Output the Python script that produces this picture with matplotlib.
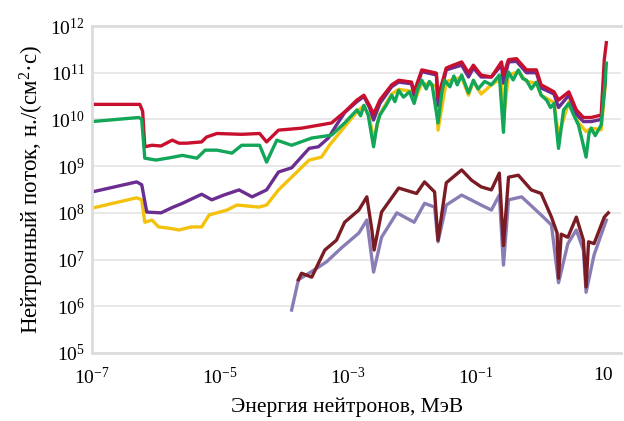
import matplotlib
matplotlib.use("Agg")
import matplotlib.pyplot as plt

plt.rcParams['font.family'] = ['Liberation Serif', 'DejaVu Serif']
plt.rcParams['mathtext.fontset'] = 'custom'
plt.rcParams['mathtext.rm'] = 'Liberation Serif'
plt.rcParams['mathtext.it'] = 'Liberation Serif:italic'

# energies (MeV) and fluxes
red_e = [1e-7, 5.6e-7, 6.2e-7, 6.7e-7, 8.7e-7, 1.2e-6, 1.8e-6, 2.3e-6, 3.0e-6, 5.2e-6,
         6.2e-6, 9e-6, 2.2e-5, 4.2e-5, 5.4e-5, 8.3e-5, 1.9e-4, 5.6e-4, 9e-4, 1.4e-3,
         1.8e-3, 2.2e-3, 2.55e-3, 3.2e-3, 4.9e-3, 6.3e-3, 1.0e-2, 1.1e-2, 1.45e-2, 2.45e-2,
         2.6e-2, 3.5e-2, 4.5e-2, 6.1e-2, 7.8e-2, 9.3e-2, 0.123, 0.178, 0.256, 0.275,
         0.33, 0.44, 0.63, 0.90, 1.07, 1.7, 2.0, 2.9, 3.8, 4.9,
         6.5, 9.3, 10.4, 11.2]
red_f = [2.1e10, 2.1e10, 1.5e10, 2.6e9, 2.8e9, 2.7e9, 3.6e9, 3.1e9, 3.1e9, 3.3e9,
         4.2e9, 5.0e9, 4.8e9, 5.0e9, 3.3e9, 5.9e9, 6.5e9, 8.4e9, 1.45e10, 2.6e10,
         3.3e10, 2.0e10, 1.3e10, 2.6e10, 5.5e10, 6.9e10, 6.3e10, 3.9e10, 1.15e11, 9.8e10,
         3.0e10, 1.26e11, 1.45e11, 1.7e11, 1.0e11, 1.45e11, 8.9e10, 8.1e10, 1.7e11, 9e10,
         1.9e11, 2.0e11, 1.15e11, 1.15e11, 5.5e10, 3.9e10, 2.6e10, 3.9e10, 1.6e10, 1.1e10,
         1.1e10, 1.24e10, 1.9e11, 4.4e11]

green_e = [1e-7, 5.4e-7, 6.0e-7, 6.7e-7, 1.0e-6, 1.6e-6, 2.6e-6, 4.4e-6, 5.9e-6, 9e-6,
           1.55e-5, 2.2e-5, 4.2e-5, 5.4e-5, 7.8e-5, 1.33e-4, 2.75e-4, 5.6e-4, 9e-4, 1.4e-3,
           1.6e-3, 1.8e-3, 2.1e-3, 2.55e-3, 2.9e-3, 3.2e-3, 4.0e-3, 4.9e-3, 5.5e-3, 6.3e-3,
           7.5e-3, 9.3e-3, 1.1e-2, 1.25e-2, 1.45e-2, 1.7e-2, 1.9e-2, 2.1e-2, 2.6e-2, 3.0e-2,
           3.3e-2, 4.0e-2, 4.6e-2, 5.2e-2, 6.1e-2, 7.8e-2, 9.3e-2, 0.11, 0.14, 0.178,
           0.237, 0.275, 0.30, 0.33, 0.39, 0.47, 0.55, 0.63, 0.75, 0.90,
           1.07, 1.3, 1.5, 1.7, 2.0, 2.4, 2.9, 3.4, 4.1, 4.6,
           5.4, 6.0, 6.5, 7.5, 9.3, 10.8, 11.2]
green_f = [9e9, 1.1e10, 1.0e10, 1.48e9, 1.35e9, 1.5e9, 1.7e9, 1.48e9, 2.2e9, 2.2e9,
           1.9e9, 2.8e9, 2.8e9, 1.22e9, 3.6e9, 2.8e9, 4.0e9, 4.6e9, 8.4e9, 1.6e10,
           1.2e10, 2.0e10, 1.24e10, 2.6e9, 8e9, 1.24e10, 2.0e10, 3.3e10, 2.4e10, 4.2e10,
           3.0e10, 3.9e10, 2.2e10, 4.5e10, 6.9e10, 4.5e10, 6.5e10, 5.5e10, 8.4e9, 4.0e10,
           6.9e10, 5.0e10, 8.5e10, 5.5e10, 8.9e10, 3.7e10, 6.9e10, 4.5e10, 6.5e10, 5.5e10,
           8.9e10, 5.3e9, 6e10, 1.03e11, 7e10, 1.15e11, 7.5e10, 6.9e10, 4.5e10, 6.3e10,
           3.3e10, 2.6e10, 1.8e10, 2.2e10, 2.4e9, 1.6e10, 2.2e10, 1.3e10, 7.6e9, 4e9,
           1.56e9, 5e9, 6.5e9, 4.5e9, 7.6e9, 6.9e10, 1.6e11]

purple_e = [1e-7, 5e-7, 6e-7, 7.2e-7, 1.2e-6, 1.8e-6, 2.6e-6, 5.2e-6, 7.5e-6, 1.15e-5,
            2.0e-5, 3.2e-5, 5.4e-5, 8.3e-5, 1.33e-4, 2.5e-4, 3.5e-4, 5e-4, 6.7e-4, 9e-4,
            1.4e-3, 1.8e-3, 2.2e-3, 2.55e-3, 3.2e-3, 4.9e-3, 6.3e-3, 1.0e-2, 1.1e-2, 1.45e-2,
            2.45e-2, 2.6e-2, 3.5e-2, 6.1e-2, 7.8e-2, 9.3e-2, 0.123, 0.178, 0.256, 0.275,
            0.33, 0.44, 0.63, 0.90, 1.07, 1.7, 2.0, 2.9, 3.8, 4.9,
            6.5, 9.3, 10.8]
purple_f = [2.8e8, 4.6e8, 4.0e8, 1.04e8, 1.0e8, 1.3e8, 1.6e8, 2.5e8, 1.9e8, 2.4e8,
            3.1e8, 2.2e8, 3.1e8, 7.5e8, 9.2e8, 2.4e9, 2.6e9, 4.0e9, 7.6e9, 1.4e10,
            2.4e10, 3.1e10, 1.8e10, 9.7e9, 2.2e10, 5.0e10, 6.3e10, 5.8e10, 3.3e10, 1.05e11,
            9e10, 2.0e10, 1.15e11, 1.45e11, 8.1e10, 1.26e11, 8.1e10, 8.1e10, 1.45e11, 6e10,
            1.7e11, 1.75e11, 1.0e11, 1.0e11, 4.7e10, 3.5e10, 1.8e10, 3.3e10, 1.3e10, 9e9,
            9e9, 1.0e10, 6.9e10]

yellow_e = [1e-7, 5e-7, 6.0e-7, 6.7e-7, 8.7e-7, 1.1e-6, 1.6e-6, 2.3e-6, 3.6e-6, 5.2e-6,
            6.8e-6, 1.3e-5, 1.85e-5, 4.1e-5, 5.4e-5, 8.3e-5, 1.33e-4, 2.5e-4, 3.9e-4, 5.2e-4,
            8.1e-4, 1.4e-3, 1.8e-3, 2.2e-3, 2.55e-3, 3.2e-3, 4.9e-3, 6.3e-3, 1.0e-2, 1.1e-2,
            1.45e-2, 2.45e-2, 2.6e-2, 3.5e-2, 6.1e-2, 7.8e-2, 9.3e-2, 0.123, 0.178, 0.256,
            0.275, 0.33, 0.47, 0.63, 0.90, 1.07, 1.7, 2.0, 2.9, 4.1,
            5.4, 6.5, 9.3, 10.8]
yellow_f = [1.26e8, 2.1e8, 1.9e8, 6.3e7, 7.0e7, 5.0e7, 4.7e7, 4.3e7, 5.0e7, 5.0e7,
            9.0e7, 1.15e8, 1.47e8, 1.33e8, 1.47e8, 3.1e8, 5.8e8, 1.35e9, 1.56e9, 2.8e9,
            5.9e9, 1.45e10, 2.0e10, 1.1e10, 3.6e9, 1.3e10, 3.5e10, 4.4e10, 4.0e10, 2.4e10,
            6.0e10, 5.2e10, 5.9e9, 6.5e10, 8.0e10, 3.3e10, 6.5e10, 3.5e10, 5.5e10, 7.5e10,
            1.0e10, 9.0e10, 1.05e11, 6.5e10, 6.0e10, 3.3e10, 2.3e10, 4.5e9, 2.4e10, 8.5e9,
            5.5e9, 6.5e9, 6.0e9, 5.5e10]

maroon_e = [1.7e-4, 1.9e-4, 2.75e-4, 4.4e-4, 6.7e-4, 9e-4, 1.5e-3, 2.0e-3, 2.4e-3, 2.6e-3,
            3.4e-3, 6.3e-3, 1.2e-2, 1.6e-2, 2.3e-2, 2.6e-2, 3.5e-2, 6.1e-2, 8.7e-2, 0.123,
            0.178, 0.237, 0.275, 0.33, 0.47, 0.75, 1.07, 1.55, 1.9, 2.0,
            2.2, 2.8, 3.8, 4.9, 5.4, 5.9, 7.2, 10.4, 12]
maroon_f = [3.7e6, 5.1e6, 4.2e6, 1.6e7, 2.6e7, 6.3e7, 1.15e8, 2.2e8, 4.3e7, 1.6e7,
            1.04e8, 3.4e8, 2.6e8, 4.6e8, 2.8e8, 2.6e7, 4.4e8, 8.3e8, 5.0e8, 3.6e8,
            3.1e8, 7.1e8, 2.0e7, 5.8e8, 6.4e8, 3.1e8, 2.6e8, 8.1e7, 3.7e7, 4.0e6,
            3.5e7, 3.0e7, 8.1e7, 2.6e7, 2.6e6, 2.4e7, 2.2e7, 8.1e7, 1.0e8]

lav_e = [1.33e-4, 1.7e-4, 3.0e-4, 4.7e-4, 8.1e-4, 1.5e-3, 2.0e-3, 2.55e-3, 3.4e-3, 5.9e-3,
         1.1e-2, 1.6e-2, 2.3e-2, 2.6e-2, 3.5e-2, 6.1e-2, 0.123, 0.178, 0.237, 0.275,
         0.33, 0.53, 1.07, 1.55, 2.0, 2.8, 3.8, 4.9, 5.4, 7.2, 11.2]
lav_f = [8.3e5, 3.7e6, 6.0e6, 9.0e6, 1.8e7, 3.7e7, 7.0e7, 5.4e6, 3.0e7, 1.0e8,
         6.3e7, 1.6e8, 1.33e8, 2.4e7, 1.47e8, 2.4e8, 1.47e8, 1.15e8, 2.4e8, 7.6e6,
         1.9e8, 2.2e8, 9.0e7, 5.5e7, 3.2e6, 2.2e7, 4.3e7, 1.6e7, 2.0e6, 1.26e7, 7.0e7]

xticks = [1e-7, 1e-5, 1e-3, 1e-1, 10]
xticklabels = ['$10^{-7}$', '$10^{-5}$', '$10^{-3}$', '$10^{-1}$', '10']
yticks = [1e5, 1e6, 1e7, 1e8, 1e9, 1e10, 1e11, 1e12]
yticklabels = ['$10^{%d}$' % p for p in range(5, 13)]

fig = plt.figure(figsize=(6.24, 4.21), dpi=100)
ax = fig.add_axes([92 / 624, 1 - 353 / 421, (621 - 92) / 624, (353 - 26) / 421])

lw = 2.4
ax.plot(lav_e, lav_f, color='#8a7cb4', lw=lw)
ax.plot(maroon_e, maroon_f, color='#7a1c24', lw=lw)
ax.plot(yellow_e, yellow_f, color='#f4c20d', lw=lw)
ax.plot(purple_e, purple_f, color='#6b2d90', lw=lw)
ax.plot(red_e, red_f, color='#c8102e', lw=lw)
ax.plot(green_e, green_f, color='#12a658', lw=lw)

ax.set_xscale('log')
ax.set_yscale('log')
ax.set_xlim(1e-7, 19)
ax.set_ylim(1e5, 1e12)
ax.set_xticks(xticks)
ax.set_xticklabels(xticklabels)
ax.set_yticks(yticks)
ax.set_yticklabels(yticklabels)
ax.minorticks_off()
ax.tick_params(length=0, labelsize=14)
ax.tick_params(axis='x', pad=10)
ax.tick_params(axis='y', pad=5)
ax.grid(axis='y', color='#e4e4e4', lw=1.2)
ax.set_axisbelow(True)
for s in ax.spines.values():
    s.set_color('#dcdcdc')
    s.set_linewidth(2)
ax.spines['right'].set_visible(False)

ax.set_xlabel('Энергия нейтронов, МэВ', fontsize=15.5)
ax.xaxis.set_label_coords(0.482, -0.135)
ax.set_ylabel('Нейтронный поток, н./(см$^{2}$·с)', fontsize=16.5, labelpad=3)

fig.savefig('out.png', dpi=100)
